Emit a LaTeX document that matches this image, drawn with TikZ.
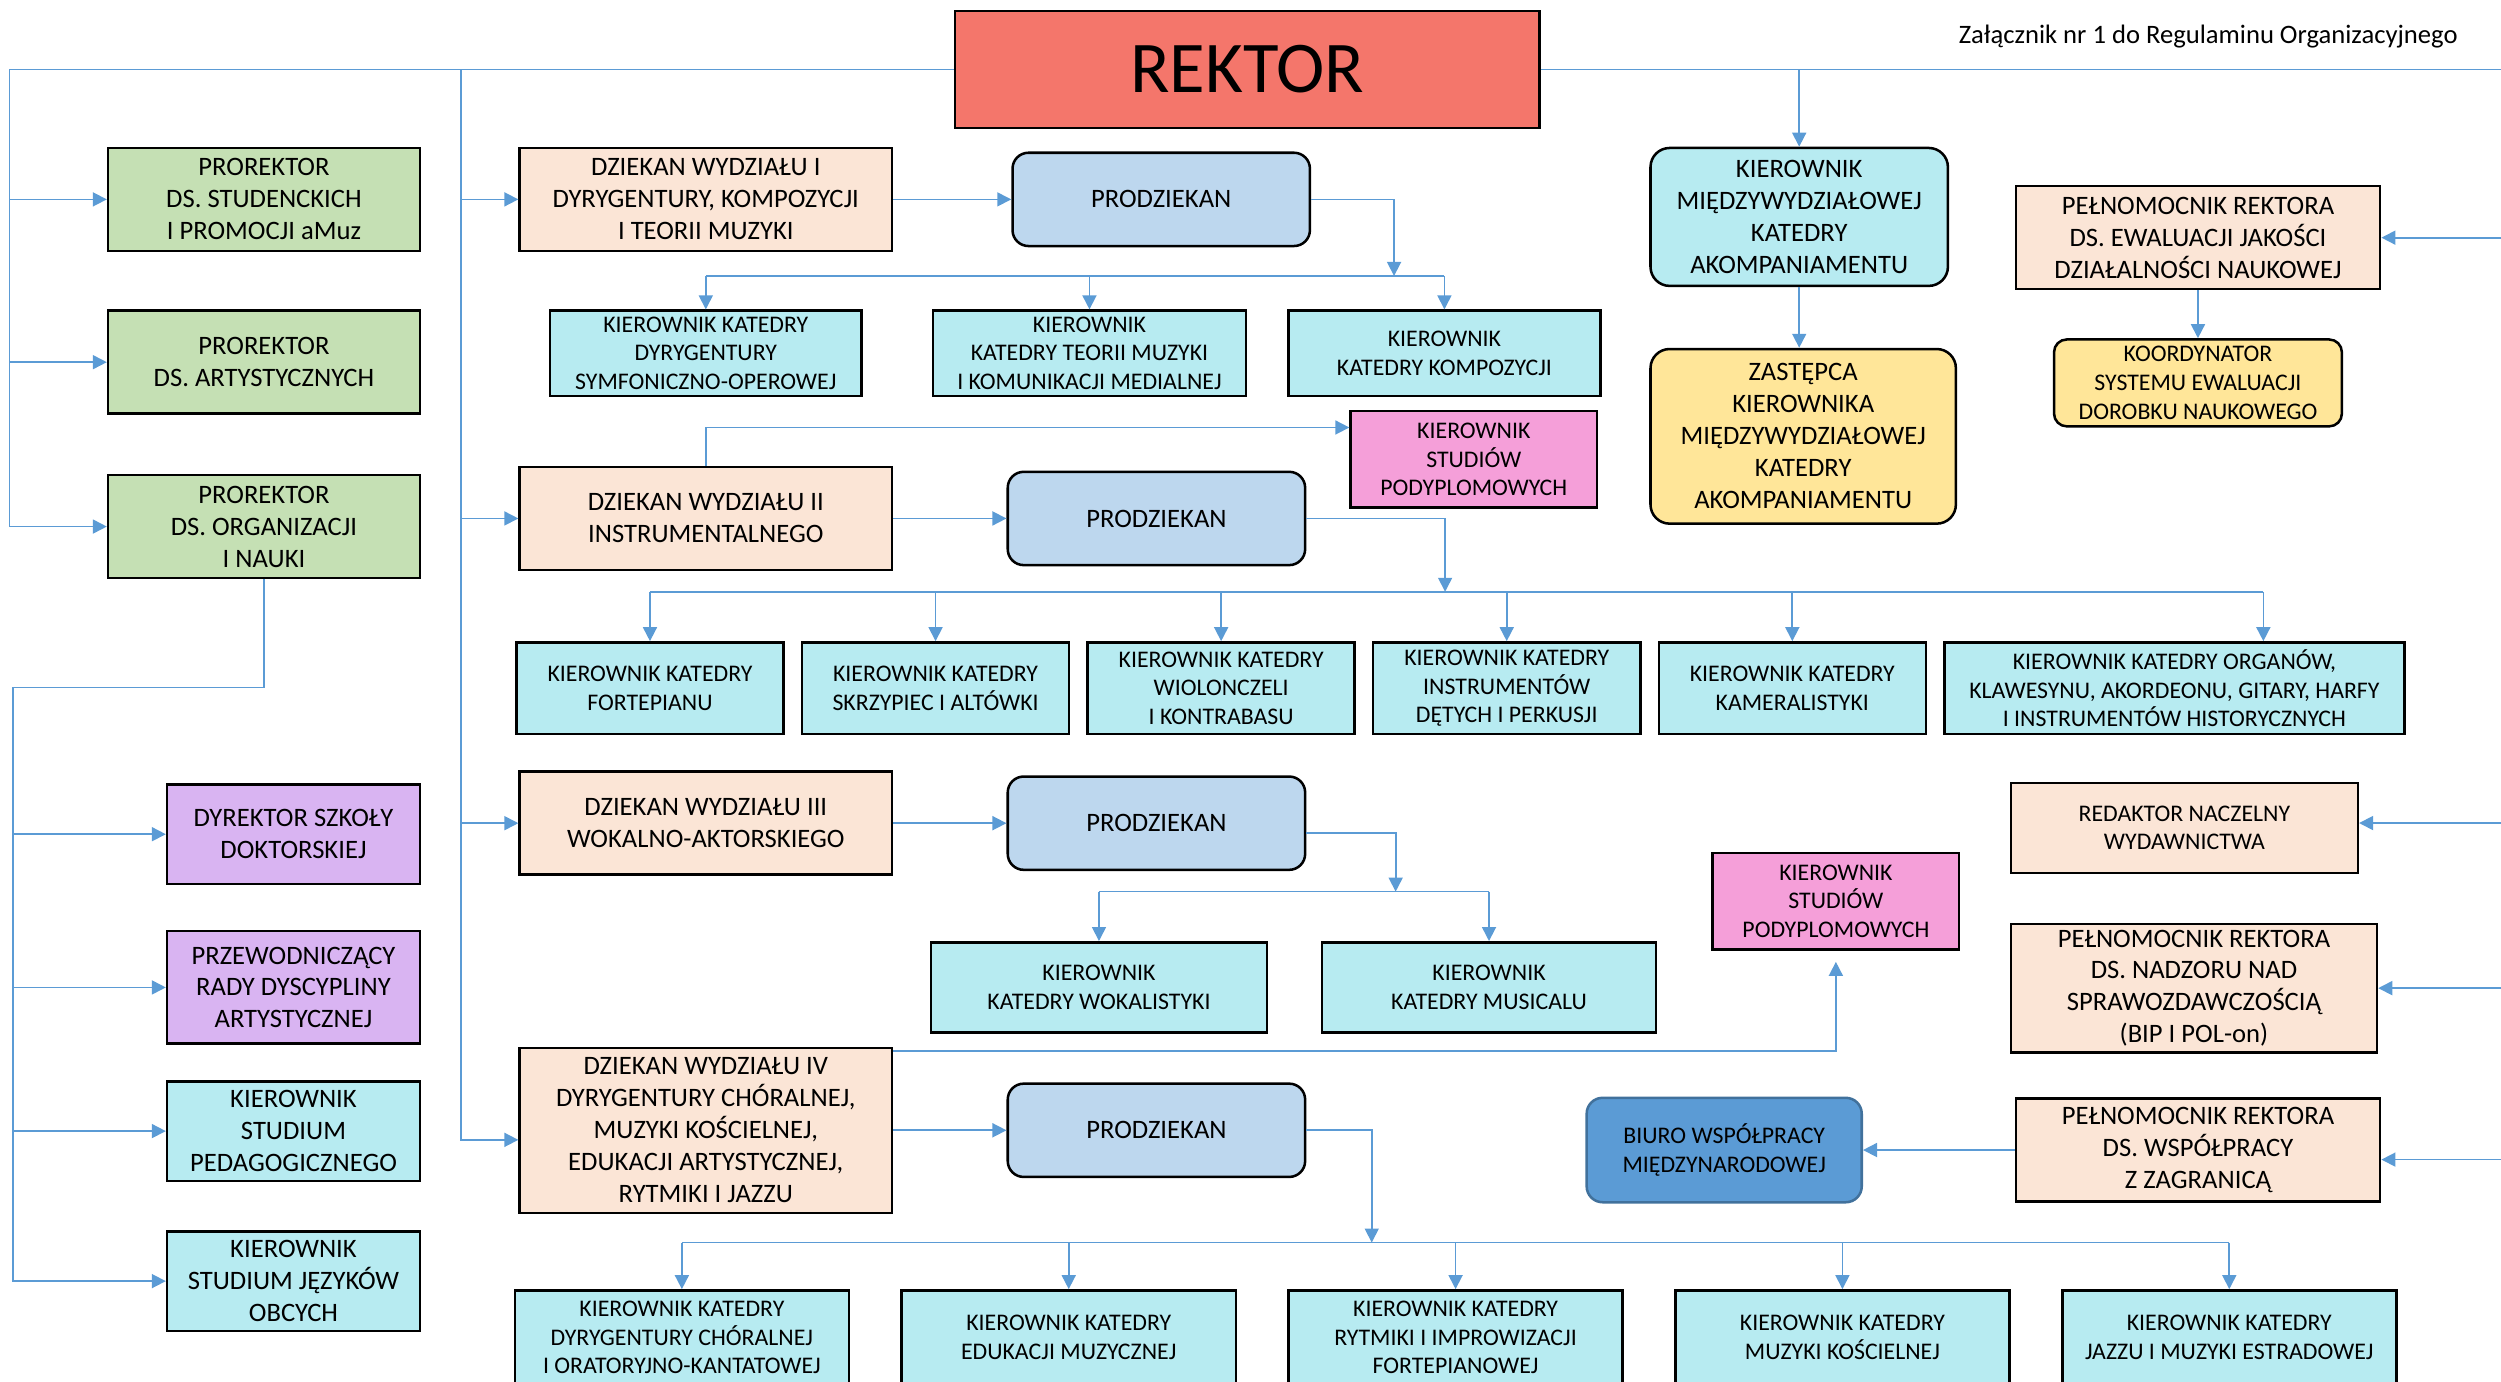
\documentclass[tikz,border=0pt]{standalone}
\usepackage{fontspec}
\setmainfont{Carlito}
\usetikzlibrary{arrows.meta, positioning}

\definecolor{linkblue}{HTML}{5B9BD5}
\definecolor{rektorred}{HTML}{F4766B}
\definecolor{prorgreen}{HTML}{C5E0B4}
\definecolor{dziekpeach}{HTML}{FBE5D6}
\definecolor{prodzblue}{HTML}{BDD7EE}
\definecolor{katcyan}{HTML}{B7EBF1}
\definecolor{podypink}{HTML}{F59FD9}
\definecolor{szkpurple}{HTML}{D9B4F2}
\definecolor{zastyellow}{HTML}{FFE699}
\definecolor{biuroedge}{HTML}{41719C}

\begin{document}
\begin{tikzpicture}[x=0.02cm, y=-0.02cm,
                box/.style={draw, line width=0.9pt, align=center, inner sep=1pt,
                            font=\fontsize{9.5}{11.4}\selectfont},
                smallbox/.style={box, font=\fontsize{8.5}{10.2}\selectfont},
                prorektor/.style={box, fill=prorgreen, minimum width=3.91cm, minimum height=1.29cm},
                szkola/.style={box, fill=szkpurple, minimum width=3.17cm, minimum height=1.25cm},
                studium/.style={box, fill=katcyan, minimum width=3.17cm, minimum height=1.25cm},
                dziekan/.style={box, fill=dziekpeach, minimum width=4.67cm, minimum height=1.29cm},
                prodziekan/.style={box, fill=prodzblue, rounded corners=0.2cm,
                                   minimum width=3.73cm, minimum height=1.17cm},
                katedra/.style={smallbox, fill=katcyan},
                podypl/.style={smallbox, fill=podypink, minimum width=3.09cm, minimum height=1.21cm},
                pelnom/.style={box, fill=dziekpeach, minimum width=4.57cm, minimum height=1.29cm},
                link/.style={draw=linkblue, line width=0.6pt},
                arrow/.style={link, -{Triangle[length=5pt, width=5pt]}}]

                \useasboundingbox (0,0) rectangle (1568,866);

                % Rektor at the top
                \node[box, fill=rektorred, minimum width=7.33cm, minimum height=1.47cm,
                      font=\fontsize{26}{30}\selectfont] (rektor) at (782,43.5) {REKTOR};
                \node[anchor=east, font=\fontsize{9.5}{11}\selectfont] (zal) at (1547,23)
                    {Załącznik nr 1 do Regulaminu Organizacyjnego};

                % Prorektors on the left
                \node[prorektor] (pr1) at (165.5,125) {PROREKTOR\\DS. STUDENCKICH\\I PROMOCJI aMuz};
                \node[prorektor, below=0.72cm of pr1] (pr2) {PROREKTOR\\DS. ARTYSTYCZNYCH};
                \node[prorektor, below=0.74cm of pr2] (pr3) {PROREKTOR\\DS. ORGANIZACJI\\I NAUKI};

                % Units under the prorektor for organisation
                \node[szkola] (dyr) at (184,523) {DYREKTOR SZKOŁY\\DOKTORSKIEJ};
                \node[szkola, minimum height=1.41cm, below=0.56cm of dyr] (prz)
                    {PRZEWODNICZĄCY\\RADY DYSCYPLINY\\ARTYSTYCZNEJ};
                \node[studium, below=0.44cm of prz] (ped) {KIEROWNIK\\STUDIUM\\PEDAGOGICZNEGO};
                \node[studium, below=0.6cm of ped] (jez) {KIEROWNIK\\STUDIUM JĘZYKÓW\\OBCYCH};

                % Deans - one column
                \node[dziekan] (dz1) at (442.5,125) {DZIEKAN WYDZIAŁU I\\DYRYGENTURY, KOMPOZYCJI\\I TEORII MUZYKI};
                \node[dziekan, below=2.68cm of dz1] (dz2) {DZIEKAN WYDZIAŁU II\\INSTRUMENTALNEGO};
                \node[dziekan, below=2.5cm of dz2] (dz3) {DZIEKAN WYDZIAŁU III\\WOKALNO-AKTORSKIEGO};
                \node[dziekan, minimum height=2.07cm, below=2.14cm of dz3] (dz4)
                    {DZIEKAN WYDZIAŁU IV\\DYRYGENTURY CHÓRALNEJ,\\MUZYKI KOŚCIELNEJ,\\EDUKACJI ARTYSTYCZNEJ,\\RYTMIKI I JAZZU};

                % Prodziekans right of the deans
                \node[prodziekan, right=1.48cm of dz1] (pd1) {PRODZIEKAN};
                \node[prodziekan, right=1.42cm of dz2] (pd2) {PRODZIEKAN};
                \node[prodziekan, right=1.42cm of dz3] (pd3) {PRODZIEKAN};
                \node[prodziekan, right=1.42cm of dz4] (pd4) {PRODZIEKAN};

                % Faculty I chairs
                \node[katedra, minimum width=3.91cm, minimum height=1.07cm] (k1a) at (442.5,221.5)
                    {KIEROWNIK KATEDRY\\DYRYGENTURY\\SYMFONICZNO-OPEROWEJ};
                \node[katedra, minimum width=3.93cm, minimum height=1.07cm, right=0.86cm of k1a] (k1b)
                    {KIEROWNIK\\KATEDRY TEORII MUZYKI\\I KOMUNIKACJI MEDIALNEJ};
                \node[katedra, minimum width=3.91cm, minimum height=1.07cm, right=0.5cm of k1b] (k1c)
                    {KIEROWNIK\\KATEDRY KOMPOZYCJI};
                \node[podypl] (pody1) at (924,288) {KIEROWNIK\\STUDIÓW\\PODYPLOMOWYCH};

                % Faculty II chairs
                \node[katedra, minimum width=3.35cm, minimum height=1.15cm] (k2a) at (407.5,431.5)
                    {KIEROWNIK KATEDRY\\FORTEPIANU};
                \node[katedra, minimum width=3.35cm, minimum height=1.15cm, right=0.2cm of k2a] (k2b)
                    {KIEROWNIK KATEDRY\\SKRZYPIEC I ALTÓWKI};
                \node[katedra, minimum width=3.35cm, minimum height=1.15cm, right=0.2cm of k2b] (k2c)
                    {KIEROWNIK KATEDRY\\WIOLONCZELI\\I KONTRABASU};
                \node[katedra, minimum width=3.35cm, minimum height=1.15cm, right=0.2cm of k2c] (k2d)
                    {KIEROWNIK KATEDRY\\INSTRUMENTÓW\\DĘTYCH I PERKUSJI};
                \node[katedra, minimum width=3.35cm, minimum height=1.15cm, right=0.2cm of k2d] (k2e)
                    {KIEROWNIK KATEDRY\\KAMERALISTYKI};
                \node[katedra, minimum width=5.77cm, minimum height=1.15cm, right=0.2cm of k2e] (k2f)
                    {KIEROWNIK KATEDRY ORGANÓW,\\KLAWESYNU, AKORDEONU, GITARY, HARFY\\I INSTRUMENTÓW HISTORYCZNYCH};

                % Faculty III chairs
                \node[katedra, minimum width=4.21cm, minimum height=1.13cm] (k3a) at (689,619)
                    {KIEROWNIK\\KATEDRY WOKALISTYKI};
                \node[katedra, minimum width=4.19cm, minimum height=1.13cm, right=0.66cm of k3a] (k3b)
                    {KIEROWNIK\\KATEDRY MUSICALU};
                \node[podypl] (pody2) at (1151,565) {KIEROWNIK\\STUDIÓW\\PODYPLOMOWYCH};

                % Faculty IV chairs (cut by the page edge)
                \node[katedra, minimum width=4.19cm, minimum height=1.18cm] (k4a) at (427.5,838.5)
                    {KIEROWNIK KATEDRY\\DYRYGENTURY CHÓRALNEJ\\I ORATORYJNO-KANTATOWEJ};
                \node[katedra, minimum width=4.19cm, minimum height=1.18cm, right=0.63cm of k4a] (k4b)
                    {KIEROWNIK KATEDRY\\EDUKACJI MUZYCZNEJ};
                \node[katedra, minimum width=4.19cm, minimum height=1.18cm, right=0.63cm of k4b] (k4c)
                    {KIEROWNIK KATEDRY\\RYTMIKI I IMPROWIZACJI\\FORTEPIANOWEJ};
                \node[katedra, minimum width=4.19cm, minimum height=1.18cm, right=0.63cm of k4c] (k4d)
                    {KIEROWNIK KATEDRY\\MUZYKI KOŚCIELNEJ};
                \node[katedra, minimum width=4.19cm, minimum height=1.18cm, right=0.63cm of k4d] (k4e)
                    {KIEROWNIK KATEDRY\\JAZZU I MUZYKI ESTRADOWEJ};

                % Accompaniment chair and the rector's plenipotentiaries
                \node[box, fill=katcyan, rounded corners=0.24cm, minimum width=3.73cm, minimum height=1.73cm]
                    (akomp) at (1128,136) {KIEROWNIK\\MIĘDZYWYDZIAŁOWEJ\\KATEDRY\\AKOMPANIAMENTU};
                \node[box, fill=zastyellow, rounded corners=0.24cm, minimum width=3.83cm, minimum height=2.19cm,
                      below=0.76cm of akomp, xshift=0.05cm] (zast)
                    {ZASTĘPCA\\KIEROWNIKA\\MIĘDZYWYDZIAŁOWEJ\\KATEDRY\\AKOMPANIAMENTU};
                \node[pelnom] (ewal) at (1378,149) {PEŁNOMOCNIK REKTORA\\DS. EWALUACJI JAKOŚCI\\DZIAŁALNOŚCI NAUKOWEJ};
                \node[smallbox, fill=zastyellow, rounded corners=0.16cm, minimum width=3.61cm, minimum height=1.09cm,
                      below=0.6cm of ewal] (koord) {KOORDYNATOR\\SYSTEMU EWALUACJI\\DOROBKU NAUKOWEGO};
                \node[smallbox, fill=dziekpeach, minimum width=4.35cm, minimum height=1.13cm] (redak) at (1369.5,519)
                    {REDAKTOR NACZELNY\\WYDAWNICTWA};
                \node[pelnom, minimum width=4.59cm, minimum height=1.61cm] (nadzor) at (1375.5,619.5)
                    {PEŁNOMOCNIK REKTORA\\DS. NADZORU NAD\\SPRAWOZDAWCZOŚCIĄ\\(BIP I POL-on)};
                \node[pelnom] (wspol) at (1378,721) {PEŁNOMOCNIK REKTORA\\DS. WSPÓŁPRACY\\Z ZAGRANICĄ};
                \node[smallbox, draw=biuroedge, fill=linkblue, rounded corners=0.2cm, minimum width=3.45cm,
                      minimum height=1.31cm, left=1.9cm of wspol] (biuro) {BIURO WSPÓŁPRACY\\MIĘDZYNARODOWEJ};

                % Trunk lines
                \coordinate (trunkL) at (6,43.5);
                \coordinate (trunkD) at (289,43.5);
                \coordinate (trunkB) at (8,431);
                \coordinate (edge) at (1568,43.5);

                % Rektor to prorektors and deans
                \draw[arrow] (rektor.west) -| (trunkL |- pr3) -- (pr3.west);
                \draw[arrow] (trunkL |- pr1) -- (pr1.west);
                \draw[arrow] (trunkL |- pr2) -- (pr2.west);
                \draw[arrow] (trunkD) |- ([yshift=-0.12cm]dz4.west);
                \draw[arrow] (trunkD |- dz1) -- (dz1.west);
                \draw[arrow] (trunkD |- dz2) -- (dz2.west);
                \draw[arrow] (trunkD |- dz3) -- (dz3.west);
                \draw[link] (rektor.east) -- (edge);
                \draw[arrow] (akomp.north |- edge) -- (akomp.north);
                \draw[arrow] (akomp.south) -- (akomp.south |- zast.north);

                % Prorektor for organisation to its units
                \draw[arrow] (pr3.south) |- (trunkB) |- (jez.west);
                \draw[arrow] (trunkB |- dyr) -- (dyr.west);
                \draw[arrow] (trunkB |- prz) -- (prz.west);
                \draw[arrow] (trunkB |- ped) -- (ped.west);

                % From the right page edge
                \draw[arrow] (edge |- ewal) -- (ewal.east);
                \draw[arrow] (ewal) -- (koord);
                \draw[arrow] ([yshift=0.06cm]edge |- redak) -- ([yshift=0.06cm]redak.east);
                \draw[arrow] (edge |- nadzor) -- (nadzor.east);
                \draw[arrow] ([yshift=-0.12cm]edge |- wspol) -- ([yshift=-0.12cm]wspol.east);
                \draw[arrow] (wspol) -- (biuro);

                % Deans to prodziekans
                \draw[arrow] (dz1) -- (pd1);
                \draw[arrow] (dz2) -- (pd2);
                \draw[arrow] (dz3) -- (pd3);
                \draw[arrow] (dz4) -- (pd4);

                % Faculty I
                \coordinate (bus1) at (874,173);
                \draw[arrow] (pd1.east) -| (bus1);
                \draw[link] (bus1 -| k1a) -- (bus1 -| k1c);
                \draw[arrow] (bus1 -| k1a) -- (k1a.north);
                \draw[arrow] (bus1 -| k1b) -- (k1b.north);
                \draw[arrow] (bus1 -| k1c) -- (k1c.north);
                \draw[arrow] (dz2.north) |- ([yshift=0.4cm]pody1.west);

                % Faculty II
                \coordinate (bus2) at (906,371);
                \coordinate (drop2f) at (1419,371);
                \draw[arrow] (pd2.east) -| (bus2);
                \draw[link] (bus2 -| k2a) -- (drop2f);
                \draw[arrow] (bus2 -| k2a) -- (k2a.north);
                \draw[arrow] (bus2 -| k2b) -- (k2b.north);
                \draw[arrow] (bus2 -| k2c) -- (k2c.north);
                \draw[arrow] (bus2 -| k2d) -- (k2d.north);
                \draw[arrow] (bus2 -| k2e) -- (k2e.north);
                \draw[arrow] (drop2f) -- (drop2f |- k2f.north);

                % Faculty III
                \coordinate (bus3) at (875,559);
                \draw[arrow] ([yshift=-0.12cm]pd3.east) -| (bus3);
                \draw[link] (bus3 -| k3a) -- (bus3 -| k3b);
                \draw[arrow] (bus3 -| k3a) -- (k3a.north);
                \draw[arrow] (bus3 -| k3b) -- (k3b.north);
                \draw[arrow] ([yshift=-0.06cm]dz4.north east) -| ([yshift=-0.14cm]pody2.south);

                % Faculty IV
                \coordinate (bus4) at (860,779);
                \draw[arrow] (pd4.east) -| (bus4);
                \draw[link] (bus4 -| k4a) -- (bus4 -| k4e);
                \draw[arrow] (bus4 -| k4a) -- (k4a.north);
                \draw[arrow] (bus4 -| k4b) -- (k4b.north);
                \draw[arrow] (bus4 -| k4c) -- (k4c.north);
                \draw[arrow] (bus4 -| k4d) -- (k4d.north);
                \draw[arrow] (bus4 -| k4e) -- (k4e.north);
\end{tikzpicture}
\end{document}
